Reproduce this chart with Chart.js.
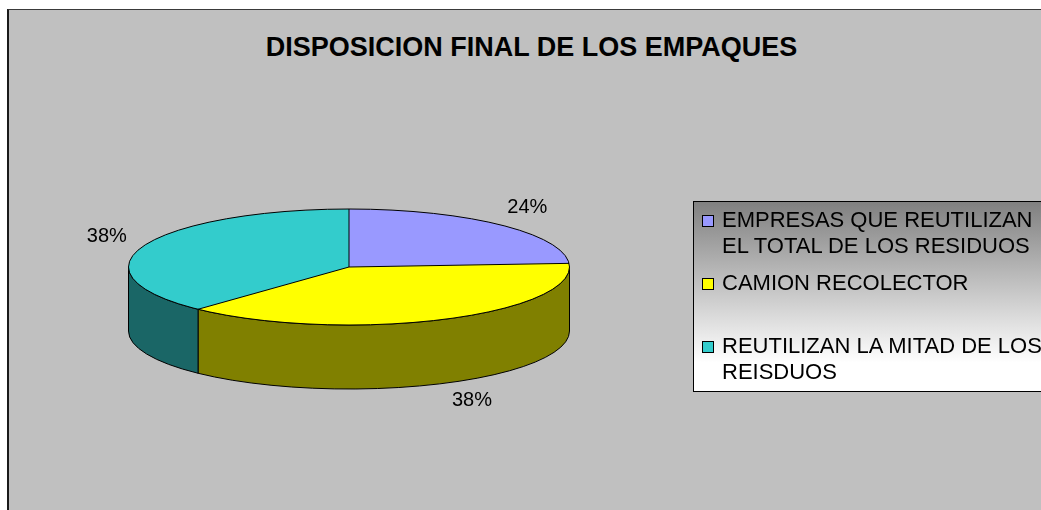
<!DOCTYPE html>
<html lang="es">
<head>
  <meta charset="UTF-8">
  <title>Disposicion final de los empaques</title>
  <script src="https://cdn.jsdelivr.net/npm/chart.js"></script>
  <style>
    * {
      font-family: 'Liberation Sans', Arial, sans-serif;
    }

    body {
      margin: 0;
      background: #fff;
      width: 1041px;
      height: 510px;
      overflow: hidden;
      position: relative;
    }

    .chart-box {
      position: absolute;
      left: 7px;
      top: 9px;
      width: 1100px;
      height: 560px;
      background: #c0c0c0;
      border-left: 2px solid #1a1a1a;
      border-top: 1px solid #3a3a3a;
    }

    .chart-title {
      position: absolute;
      left: 0;
      top: 32px;
      width: 1063px;
      text-align: center;
      font-size: 27px;
      font-weight: bold;
      line-height: 30px;
      color: #000;
      white-space: nowrap;
    }

    #pie {
      position: absolute;
      left: 0;
      top: 0;
    }

    .legend {
      position: absolute;
      left: 693px;
      top: 201px;
      width: 400px;
      height: 191px;
      box-sizing: border-box;
      border: 1px solid #000;
      padding-top: 5px;
      background: linear-gradient(#808080, #fff 85%);
    }

    .legend-item {
      position: relative;
      height: 63px;
      padding-left: 28px;
      font-size: 22px;
      line-height: 25.5px;
      white-space: nowrap;
      color: #000;
    }

    .legend-box {
      position: absolute;
      left: 8px;
      top: 8px;
      width: 10px;
      height: 10px;
      border: 1px solid #000;
    }
  </style>
</head>
<body>
  <div class="chart-box"></div>
  <div class="chart-title">DISPOSICION FINAL DE LOS EMPAQUES</div>
  <canvas id="pie" width="1041" height="510"></canvas>
  <div class="legend" id="legend"></div>

  <script>
    // datos del grafico
    const categories = [
      ['EMPRESAS QUE REUTILIZAN', 'EL TOTAL DE LOS RESIDUOS'],
      'CAMION RECOLECTOR',
      ['REUTILIZAN LA MITAD DE LOS', 'REISDUOS']
    ];
    const shares = [24, 38, 38];

    const topColors = ['#9999ff', '#ffff00', '#33cccc'];
    const sideColors = ['#4d4d80', '#808000', '#1a6666'];

    // forma del pastel 3D
    const PIE_CENTER_Y = 267;
    const TILT = 58 / 220.5;
    const DEPTH = 64;

    const pie3d = {
      id: 'pie3d',
      beforeDatasetsDraw(chart) {
        const ctx = chart.ctx;
        const arcs = chart.getDatasetMeta(0).data;
        const cx = arcs[0].x, rx = arcs[0].outerRadius, ry = rx * TILT;
        const cy = PIE_CENTER_Y;

        // paredes laterales (solo la mitad frontal)
        ctx.lineWidth = 1;
        ctx.strokeStyle = '#000';
        arcs.forEach((a, i) => {
          const s = Math.max(a.startAngle, 0);
          const e = Math.min(a.endAngle, Math.PI);
          if (e <= s) return;
          ctx.beginPath();
          ctx.ellipse(cx, cy, rx, ry, 0, s, e);
          ctx.ellipse(cx, cy + DEPTH, rx, ry, 0, e, s, true);
          ctx.closePath();
          ctx.fillStyle = sideColors[i];
          ctx.fill();
          ctx.stroke();
        });

        // la cara superior la dibuja Chart.js aplastada
        ctx.save();
        ctx.translate(cx, cy);
        ctx.scale(1, TILT);
        ctx.translate(-cx, -arcs[0].y);
      },
      afterDatasetsDraw(chart) {
        const ctx = chart.ctx;
        ctx.restore();
        const arcs = chart.getDatasetMeta(0).data;
        const cx = arcs[0].x, rx = arcs[0].outerRadius, ry = rx * TILT;
        const cy = PIE_CENTER_Y;

        // contornos
        ctx.lineWidth = 1;
        ctx.strokeStyle = '#000';
        ctx.beginPath();
        ctx.ellipse(cx, cy, rx, ry, 0, 0, Math.PI * 2);
        arcs.forEach(a => {
          ctx.moveTo(cx, cy);
          ctx.lineTo(cx + rx * Math.cos(a.startAngle), cy + ry * Math.sin(a.startAngle));
        });
        ctx.stroke();

        // porcentajes
        const values = chart.data.datasets[0].data;
        const total = values.reduce((t, v) => t + v, 0);
        ctx.fillStyle = '#000';
        ctx.font = '20px "Liberation Sans", Arial, sans-serif';
        ctx.textAlign = 'center';
        ctx.textBaseline = 'middle';
        arcs.forEach((a, i) => {
          const mid = (a.startAngle + a.endAngle) / 2;
          const sn = Math.sin(mid);
          const lx = cx + (rx + 40) * Math.cos(mid) + (sn > 0 ? 12 : 0);
          const ly = cy + (ry + 24) * sn + (sn > 0 ? DEPTH - 5 : 0);
          ctx.fillText(Math.round(values[i] / total * 100) + '%', lx, ly);
        });
      }
    };

    const chart = new Chart(document.getElementById('pie'), {
      type: 'pie',
      data: {
        labels: categories,
        datasets: [{
          data: shares,
          backgroundColor: topColors,
          borderWidth: 0
        }]
      },
      options: {
        responsive: false,
        devicePixelRatio: 1,
        animation: false,
        events: [],
        layout: {
          padding: { left: 128, right: 471, top: 20, bottom: 49 }
        },
        plugins: {
          legend: { display: false },
          title: { display: false },
          tooltip: { enabled: false }
        }
      },
      plugins: [pie3d]
    });

    // leyenda en HTML
    const legend = document.getElementById('legend');
    chart.data.labels.forEach((label, i) => {
      const item = document.createElement('div');
      item.className = 'legend-item';
      const box = document.createElement('span');
      box.className = 'legend-box';
      box.style.background = chart.data.datasets[0].backgroundColor[i];
      item.appendChild(box);
      const lines = Array.isArray(label) ? label : [label];
      lines.forEach((line, j) => {
        if (j > 0) item.appendChild(document.createElement('br'));
        item.appendChild(document.createTextNode(line));
      });
      legend.appendChild(item);
    });
  </script>
</body>
</html>
